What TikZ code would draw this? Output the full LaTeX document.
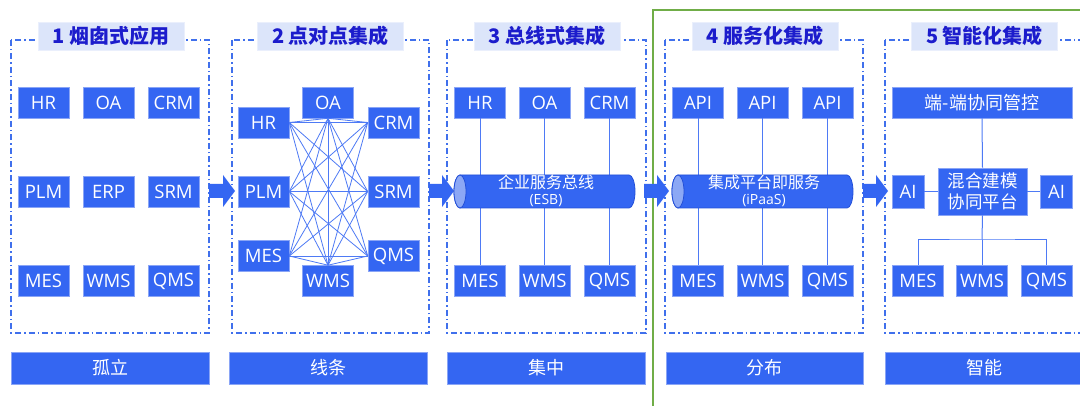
\documentclass[tikz,border=0pt]{standalone}
\usepackage{fontspec}
\setmainfont{Noto Sans CJK SC}
\newfontfamily\latinf{Open Sans}
\definecolor{boxblue}{HTML}{3466F2}
\definecolor{boxedge}{HTML}{8AA5F6}
\definecolor{linkblue}{HTML}{4E7AF5}
\definecolor{frameblue}{HTML}{4070EC}
\definecolor{titlefill}{HTML}{DCE5FA}
\definecolor{titletext}{HTML}{1C1CCC}
\definecolor{capfill}{HTML}{8CA8F5}
\definecolor{busedge}{HTML}{2450D8}
\definecolor{framegreen}{HTML}{70AD47}
\tikzset{
  sysbox/.style={rectangle, fill=boxblue, draw=boxedge, line width=0.6pt, text=white,
    minimum width=51pt, minimum height=31pt, inner sep=0pt, font=\fontsize{18.5}{20}\latinf},
  frame/.style={draw=frameblue, line width=1.1pt, dash pattern=on 6pt off 3pt on 1.5pt off 3pt},
  titlebox/.style={rectangle, fill=titlefill, draw=titlefill!60!white, line width=0.5pt, text=titletext,
    minimum width=146pt, minimum height=28pt, inner sep=0pt, font=\fontsize{20}{22}\selectfont\bfseries},
  barbox/.style={rectangle, fill=boxblue, draw=boxedge, line width=0.5pt, text=white,
    minimum width=198pt, minimum height=32pt, inner sep=0pt, font=\fontsize{18}{20}\selectfont},
  mesh/.style={draw=linkblue, line width=0.8pt},
  link/.style={draw=linkblue, line width=1pt},
  blockarrow/.style={fill=boxblue, draw=none},
  bustext/.style={text=white, inner sep=0pt, align=center, font=\fontsize{16}{18}\selectfont},
}
\begin{document}
\begin{tikzpicture}[x=1pt,y=-1pt]
\useasboundingbox (0,0) rectangle (1080,406);
\clip (0,0) rectangle (1080,406);
\fill[white] (0,0) rectangle (1080,406);

% green outline
\draw[framegreen, line width=1.5pt] (1095,10) -- (653,10) -- (653,420);

% dash-dot frames
\draw[frame] (11,40) rectangle (209,333);
\draw[frame] (232,40) rectangle (429,333);
\draw[frame] (447,40) rectangle (646,333);
\draw[frame] (665,40) rectangle (863,333);
\draw[frame] (885,40) rectangle (1083,333);

% titles
\node[titlebox] (t1) at (111,36) {1 烟囱式应用};
\node[titlebox] (t2) at (330.5,36) {2 点对点集成};
\node[titlebox] (t3) at (547,36) {3 总线式集成};
\node[titlebox] (t4) at (765,36) {4 服务化集成};
\node[titlebox] (t5) at (984.5,36) {5 智能化集成};

% bottom bars
\node[barbox] (b1) at (110,368) {孤立};
\node[barbox] (b2) at (328,368) {线条};
\node[barbox] (b3) at (546,368) {集中};
\node[barbox, minimum width=197pt] (b4) at (764.5,368) {分布};
\node[barbox] (b5) at (984,368) {智能};

% block arrows
\fill[blockarrow] (209,184) -- (223,184) -- (223,175) -- (235,191) -- (223,207) -- (223,198) -- (209,198) -- cycle;
\fill[blockarrow] (429,184) -- (442,184) -- (442,175) -- (454,191) -- (442,207) -- (442,198) -- (429,198) -- cycle;
\fill[blockarrow] (644,184) -- (657,184) -- (657,175) -- (669,191) -- (657,207) -- (657,198) -- (644,198) -- cycle;
\fill[blockarrow] (863,184) -- (876,184) -- (876,175) -- (888,191) -- (876,207) -- (876,198) -- (863,198) -- cycle;

% ---------- section 1 ----------
\node[sysbox] (hr1)  at (43.5,102.5) {HR};
\node[sysbox] (oa1)  at (108.5,102.5) {OA};
\node[sysbox] (crm1) at (173.5,102.5) {CRM};
\node[sysbox] (plm1) at (43.5,191.5) {PLM};
\node[sysbox] (erp1) at (108.5,191.5) {ERP};
\node[sysbox] (srm1) at (173.5,191.5) {SRM};
\node[sysbox] (mes1) at (43.5,281) {MES};
\node[sysbox] (wms1) at (108.5,281) {WMS};
\node[sysbox] (qms1) at (173.5,281) {QMS};

% ---------- section 2 ----------
\node[sysbox] (hr2)  at (263.5,122.5) {HR};
\node[sysbox] (oa2)  at (328,102.5) {OA};
\node[sysbox] (crm2) at (393.5,122.5) {CRM};
\node[sysbox] (plm2) at (263.5,191.5) {PLM};
\node[sysbox] (srm2) at (393.5,191.5) {SRM};
\node[sysbox] (mes2) at (263.5,256) {MES};
\node[sysbox] (qms2) at (393.5,256) {QMS};
\node[sysbox] (wms2) at (328,281) {WMS};
\foreach \l in {hr2,plm2,mes2}{
  \foreach \r in {crm2,srm2,qms2}{
    \draw[mesh] (\l.east) -- (\r.west);
  }
  \draw[mesh] (\l.east) -- (oa2.south);
  \draw[mesh] (\l.east) -- (wms2.north);
}
\foreach \r in {crm2,srm2,qms2}{
  \draw[mesh] (oa2.south) -- (\r.west);
  \draw[mesh] (wms2.north) -- (\r.west);
}
\draw[mesh] (oa2.south) -- (wms2.north);

% ---------- section 3 ----------
\node[sysbox] (hr3)  at (480,102.5) {HR};
\node[sysbox] (oa3)  at (544.5,102.5) {OA};
\node[sysbox] (crm3) at (609.5,102.5) {CRM};
\node[sysbox] (mes3) at (480,281) {MES};
\node[sysbox] (wms3) at (544.5,281) {WMS};
\node[sysbox] (qms3) at (609.5,281) {QMS};
\draw[link] (hr3.south) -- (mes3.north);
\draw[link] (oa3.south) -- (wms3.north);
\draw[link] (crm3.south) -- (qms3.north);
% bus cylinder ESB
\fill[boxblue, draw=busedge, line width=0.8pt] (629,175) arc[start angle=90, end angle=-90, x radius=6pt, y radius=16.5pt] -- (460,208) arc[start angle=270, end angle=90, x radius=6pt, y radius=16.5pt] -- cycle;
\filldraw[fill=capfill, draw=busedge, line width=0.8pt] (460,191.5) ellipse [x radius=6pt, y radius=16.5pt];
\node[bustext] (esb) at (546,190.5) {企业服务总线\\[-2pt]{\fontsize{14}{15}\latinf (ESB)}};

% ---------- section 4 ----------
\node[sysbox] (api1) at (698,102.5) {API};
\node[sysbox] (api2) at (762.5,102.5) {API};
\node[sysbox] (api3) at (827.5,102.5) {API};
\node[sysbox] (mes4) at (698,281) {MES};
\node[sysbox] (wms4) at (762.5,281) {WMS};
\node[sysbox] (qms4) at (827.5,281) {QMS};
\draw[link] (api1.south) -- (mes4.north);
\draw[link] (api2.south) -- (wms4.north);
\draw[link] (api3.south) -- (qms4.north);
% bus cylinder iPaaS
\fill[boxblue, draw=busedge, line width=0.8pt] (847,175) arc[start angle=90, end angle=-90, x radius=6pt, y radius=16.5pt] -- (678,208) arc[start angle=270, end angle=90, x radius=6pt, y radius=16.5pt] -- cycle;
\filldraw[fill=capfill, draw=busedge, line width=0.8pt] (678,191.5) ellipse [x radius=6pt, y radius=16.5pt];
\node[bustext] (ipaas) at (764,190.5) {集成平台即服务\\[-2pt]{\fontsize{14}{15}\latinf (iPaaS)}};

% ---------- section 5 ----------
\node[sysbox, minimum width=180pt, font=\fontsize{18}{20}\selectfont] (ctrl) at (982,102.5) {端-端协同管控};
\node[sysbox, minimum width=89pt, minimum height=47pt, align=center, font=\fontsize{17.5}{21}\selectfont] (hub) at (982.5,191.5) {混合建模\\协同平台};
\node[sysbox, minimum width=32pt, minimum height=33pt] (ai1) at (908,191.5) {AI};
\node[sysbox, minimum width=32pt, minimum height=33pt] (ai2) at (1056.5,191.5) {AI};
\node[sysbox] (mes5) at (918,281) {MES};
\node[sysbox] (wms5) at (982,281) {WMS};
\node[sysbox] (qms5) at (1046.5,281) {QMS};
\coordinate (j5) at (982,240);
\draw[link] (ctrl.south) -- (hub.north);
\draw[link] (ai1.east) -- (hub.west);
\draw[link] (hub.east) -- (ai2.west);
\draw[link] (hub.south) -- (j5);
\draw[link] (mes5.north) |- (j5) -| (qms5.north);
\draw[link] (j5) -- (wms5.north);
\end{tikzpicture}
\end{document}
